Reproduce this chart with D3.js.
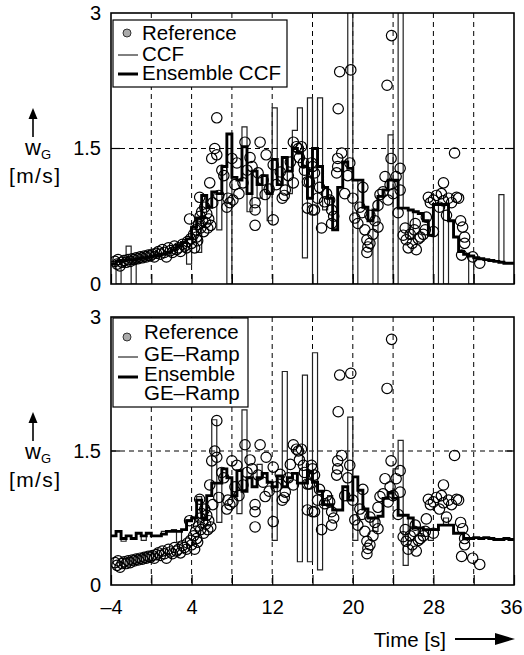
<!DOCTYPE html>
<html>
<head>
<meta charset="utf-8">
<script src="https://cdnjs.cloudflare.com/ajax/libs/d3/7.8.5/d3.min.js"></script>
<style>
body { margin: 0; background: #fff; }
svg text { font-family: "Liberation Sans", Arial, sans-serif; fill: #000; }
</style>
</head>
<body>
<svg class="WindChart" width="524" height="655"></svg>
<script>
// time axis (s)
var timeDomain = [-4, 36];
var xTickValues = [-4, 0, 4, 8, 12, 16, 20, 24, 28, 32, 36];
var xLabelValues = [-4, 4, 12, 20, 28, 36];
var gridTimes = [0, 4, 8, 12, 16, 20, 24, 28, 32];
var yTickValues = [0, 1.5, 3];
var gridLevels = [1.5];

// step series start at -4 s, one value every 0.5 s
var stepStart = -4;
var stepWidth = 0.5;

var ensembleCCF = [
    0.22, 0.25, 0.26, 0.27, 0.27, 0.28, 0.29, 0.30, 0.31, 0.32,
    0.33, 0.35, 0.38, 0.42, 0.46, 0.50, 0.63, 0.73, 0.98, 0.85,
    1.02, 1.00, 1.30, 1.66, 1.18, 1.15, 1.52, 1.00, 1.25, 1.10,
    1.20, 1.00, 1.38, 1.10, 1.40, 1.25, 1.50, 1.45, 1.30, 0.95,
    1.50, 1.30, 1.07, 0.95, 0.60, 1.07, 1.35, 1.28, 1.15, 1.15,
    0.85, 0.70, 0.82, 0.97, 1.04, 1.15, 1.15, 0.84, 0.84, 0.82,
    0.80, 0.78, 0.70, 0.54, 0.88, 0.88, 0.88, 0.70, 0.52, 0.36,
    0.33, 0.31, 0.29, 0.28, 0.27, 0.26, 0.25, 0.24, 0.23, 0.23
];

var singleCCF = [
    0.25, 0.00, 0.26, 0.42, 0.00, 0.28, 0.29, 0.30, 0.31, 0.33,
    0.33, 0.36, 0.38, 0.43, 0.47, 0.22, 0.63, 0.35, 0.98, 0.85,
    1.02, 0.60, 1.30, 0.00, 1.18, 1.15, 1.74, 0.80, 1.25, 0.95,
    1.20, 0.70, 1.95, 1.10, 1.40, 1.00, 1.70, 1.95, 0.29, 2.06,
    0.00, 2.06, 0.82, 0.95, 0.60, 1.07, 1.35, 3.20, 0.00, 1.15,
    0.85, 0.70, 0.00, 0.97, 1.04, 1.65, 0.00, 3.20, 0.84, 0.50,
    0.80, 0.78, 0.70, 0.54, 0.00, 0.88, 0.00, 0.70, 0.52, 0.36,
    0.33, 0.00, 0.29, 0.28, 0.27, 0.26, 0.25, 0.99, 0.23, 0.23
];

var ensembleRamp = [
    0.55, 0.60, 0.52, 0.55, 0.52, 0.58, 0.55, 0.58, 0.55, 0.55,
    0.57, 0.60, 0.60, 0.60, 0.62, 0.72, 0.75, 0.95, 0.75, 1.00,
    1.14, 1.14, 1.30, 1.20, 1.00, 1.28, 1.05, 1.20, 1.10, 1.20,
    1.25, 1.15, 1.10, 1.22, 1.10, 1.20, 1.25, 1.14, 1.14, 1.27,
    1.15, 1.05, 0.90, 0.90, 0.84, 0.84, 1.10, 0.95, 1.21, 1.06,
    0.85, 0.75, 0.75, 0.77, 0.97, 1.03, 0.97, 0.78, 0.78, 0.75,
    0.64, 0.64, 0.62, 0.62, 0.62, 0.67, 0.67, 0.67, 0.58, 0.58,
    0.52, 0.52, 0.53, 0.52, 0.53, 0.52, 0.51, 0.51, 0.52, 0.51
];

var singleRamp = [
    0.55, 0.60, 0.49, 0.55, 0.52, 0.58, 0.50, 0.58, 0.55, 0.55,
    0.60, 0.60, 0.62, 0.48, 0.62, 0.73, 0.75, 0.99, 0.73, 1.00,
    1.85, 0.70, 1.30, 1.20, 1.00, 0.80, 1.96, 1.20, 1.10, 1.35,
    1.25, 1.15, 0.50, 1.22, 2.39, 1.20, 1.25, 0.26, 2.35, 0.26,
    2.60, 0.17, 0.90, 1.00, 0.84, 0.84, 1.10, 1.88, 0.50, 1.06,
    0.85, 0.75, 0.60, 0.77, 0.97, 1.03, 1.30, 1.62, 0.22, 0.75,
    0.64, 0.55, 0.62, 0.50, 0.62, 0.67, 0.75, 0.67, 0.58, 0.58,
    0.52, 0.52, 0.53, 0.52, 0.53, 0.52, 0.51, 0.51, 0.52, 0.51
];

// reference measurement [time s, wG m/s]
var referencePoints = [
    [-3.6,0.25],[-3.4,0.22],[-3.3,0.27],[-3.1,0.20],[-2.9,0.24],[-2.7,0.26],[-2.5,0.24],[-2.3,0.27],
    [-2.1,0.25],[-1.9,0.28],[-1.7,0.27],[-1.5,0.29],[-1.3,0.28],[-1.1,0.30],[-0.9,0.29],[-0.7,0.31],
    [-0.5,0.30],[-0.3,0.32],[-0.1,0.31],[0.1,0.33],[0.3,0.30],[0.5,0.34],[0.7,0.36],[0.9,0.33],
    [1.1,0.38],[1.3,0.35],[1.5,0.30],[1.7,0.40],[1.9,0.37],[2.1,0.35],[2.3,0.42],[2.5,0.38],
    [2.7,0.40],[2.9,0.36],[3.1,0.44],[3.3,0.42],[3.5,0.40],[3.6,0.47],[3.8,0.72],[3.9,0.50],
    [4.0,0.45],[4.2,0.55],[4.3,0.40],[4.4,0.60],[4.5,0.52],[4.6,0.48],[4.7,0.66],[4.8,0.96],
    [4.85,0.75],[4.9,0.62],[5.0,0.80],[5.1,0.70],[5.2,0.58],[5.3,0.85],[5.4,0.68],[5.5,0.78],
    [5.6,0.62],[5.7,0.72],[5.8,1.12],[5.9,0.65],[6.0,1.39],[6.1,0.90],[6.3,1.50],[6.5,1.43],
    [6.5,1.84],[6.7,0.98],[7.0,1.26],[7.2,1.20],[7.5,0.85],[7.6,0.95],[7.8,0.90],[8.0,1.39],
    [8.1,0.93],[8.3,1.10],[8.5,1.34],[8.7,1.00],[9.1,1.12],[9.3,1.57],[9.5,1.26],[9.8,1.40],
    [10.0,1.30],[10.3,0.90],[10.3,0.82],[10.3,0.65],[10.6,1.23],[10.8,1.57],[11.1,1.15],[11.3,0.99],
    [11.4,1.43],[11.7,1.05],[12.1,0.71],[12.1,1.32],[12.4,1.10],[12.8,1.24],[13.0,0.95],[13.2,0.98],
    [13.3,1.04],[13.6,1.20],[13.8,1.35],[14.1,1.12],[14.1,1.57],[14.4,1.52],[14.6,1.50],[14.7,1.40],
    [14.9,1.52],[15.1,1.34],[15.2,1.26],[15.5,0.84],[15.5,1.13],[15.7,1.13],[15.9,1.34],[16.0,1.30],
    [16.0,0.82],[16.2,1.23],[16.2,0.82],[16.5,0.95],[16.7,1.07],[16.9,0.62],[17.2,0.91],[17.4,1.00],
    [17.7,0.93],[17.9,0.82],[17.9,0.67],[18.1,0.75],[18.4,1.23],[18.5,1.30],[18.5,1.39],[18.55,1.94],
    [18.7,2.35],[18.9,1.45],[19.2,1.00],[19.5,1.20],[19.7,1.34],[19.8,2.37],[20.0,0.95],[20.2,0.73],
    [20.5,0.67],[20.7,0.85],[20.9,0.79],[21.0,1.07],[21.2,0.60],[21.4,0.49],[21.4,0.35],[21.5,0.41],
    [21.7,0.45],[21.7,0.76],[22.0,0.55],[22.2,0.70],[22.5,0.63],[22.5,0.87],[22.7,0.99],[23.0,1.02],
    [23.2,1.19],[23.4,2.20],[23.5,0.93],[23.7,1.10],[23.8,1.39],[23.85,2.75],[24.0,1.00],[24.3,1.19],
    [24.5,0.79],[24.7,1.28],[24.7,1.04],[25.0,0.54],[25.2,0.62],[25.3,0.49],[25.5,0.40],[25.7,0.55],
    [25.9,0.45],[26.1,0.60],[26.2,0.67],[26.3,0.38],[26.5,0.50],[26.7,0.52],[27.0,0.55],[27.2,0.60],
    [27.3,0.74],[27.5,0.96],[27.7,0.90],[28.0,0.93],[28.0,0.58],[28.3,0.98],[28.6,0.85],[28.8,1.00],
    [29.0,1.12],[29.0,0.92],[29.3,0.76],[29.5,0.95],[29.8,0.90],[30.1,1.45],[30.3,0.96],[30.5,0.95],
    [30.7,0.70],[30.9,0.63],[31.1,0.52],[31.1,0.45],[30.8,0.32],[31.9,0.30],[32.6,0.23]
];

var topLegend = ["Reference", "CCF", "Ensemble CCF"];
var bottomLegend = ["Reference", "GE\u2013Ramp", "Ensemble", "GE\u2013Ramp"];

var meta = {};

function init()
{
    meta['svg'] = d3.select(".WindChart");
    meta['left'] = 111;
    meta['right'] = 514;
    meta['xScale'] = d3.scaleLinear()
        .domain(timeDomain)
        .range([meta['left'], meta['right']]);

    renderPanel({
        'id' : 'upper',
        'top' : 13,
        'bottom' : 284,
        'thin' : singleCCF,
        'thick' : ensembleCCF,
        'showLabels' : false
    });
    renderPanel({
        'id' : 'lower',
        'top' : 317,
        'bottom' : 585,
        'thin' : singleRamp,
        'thick' : ensembleRamp,
        'showLabels' : true
    });

    renderTopLegend();
    renderBottomLegend();
    renderTimeLabel();
}

function toSteps(values)
{
    let steps = values.map((v, i) => ({ 't' : stepStart + i * stepWidth, 'v' : v }));
    steps.push({ 't' : stepStart + values.length * stepWidth, 'v' : values[values.length - 1] });
    return steps;
}

function renderPanel(panel)
{
    const svg = meta['svg'];
    const xScale = meta['xScale'];
    const yScale = d3.scaleLinear()
        .domain([0, 3])
        .range([panel.bottom, panel.top]);

    svg.append('clipPath')
        .attr('id', panel.id + '-clip')
        .append('rect')
        .attr('x', meta['left'])
        .attr('y', panel.top)
        .attr('width', meta['right'] - meta['left'])
        .attr('height', panel.bottom - panel.top);

    var holder = svg.append('g').attr('class', 'holder');
    var plot = holder.append('g').attr('clip-path', `url(#${panel.id}-clip)`);

    // dashed grid
    plot.selectAll('.vgrid')
        .data(gridTimes)
        .enter()
        .append('line')
        .attr('x1', d => xScale(d))
        .attr('x2', d => xScale(d))
        .attr('y1', panel.top)
        .attr('y2', panel.bottom)
        .attr('stroke', '#000')
        .attr('stroke-width', 1)
        .attr('stroke-dasharray', '5,4');

    plot.selectAll('.hgrid')
        .data(gridLevels)
        .enter()
        .append('line')
        .attr('x1', meta['left'])
        .attr('x2', meta['right'])
        .attr('y1', d => yScale(d))
        .attr('y2', d => yScale(d))
        .attr('stroke', '#000')
        .attr('stroke-width', 1)
        .attr('stroke-dasharray', '5,4');

    // short solid ticks where the level grid meets the frame
    plot.selectAll('.ytick')
        .data(gridLevels.flatMap(d => [[meta['left'], d, 1], [meta['right'], d, -1]]))
        .enter()
        .append('line')
        .attr('x1', d => d[0])
        .attr('x2', d => d[0] + d[2] * 9)
        .attr('y1', d => yScale(d[1]))
        .attr('y2', d => yScale(d[1]))
        .attr('stroke', '#000')
        .attr('stroke-width', 1.2);

    var stepLine = d3.line()
        .x(d => xScale(d.t))
        .y(d => yScale(d.v))
        .curve(d3.curveStepAfter);

    plot.append('path')
        .attr('d', stepLine(toSteps(panel.thin)))
        .attr('fill', 'none')
        .attr('stroke', '#222')
        .attr('stroke-width', 1.2);

    plot.append('path')
        .attr('d', stepLine(toSteps(panel.thick)))
        .attr('fill', 'none')
        .attr('stroke', '#000')
        .attr('stroke-width', 2.9);

    plot.selectAll('.circle')
        .data(referencePoints)
        .enter()
        .append('circle')
        .attr('class', 'circle')
        .attr('cx', d => xScale(d[0]))
        .attr('cy', d => yScale(d[1]))
        .attr('r', 5.2)
        .attr('fill', 'none')
        .attr('stroke', '#000')
        .attr('stroke-width', 1.2);

    // inward ticks along the bottom
    var xAxis = holder.append('g')
        .attr('transform', `translate(0,${panel.bottom})`)
        .call(
            d3.axisBottom(xScale)
                .tickValues(xTickValues)
                .tickSize(-10)
                .tickPadding(15)
                .tickFormat(d => {
                    if (!panel.showLabels || xLabelValues.indexOf(d) < 0) return '';
                    return d < 0 ? '\u2013' + Math.abs(d) : String(d);
                })
        );
    xAxis.select('.domain').remove();
    xAxis.selectAll('.tick line').attr('stroke', '#000').attr('stroke-width', 1.2);
    xAxis.selectAll('.tick text')
        .attr('font-size', 20)
        .attr('font-family', '"Liberation Sans", Arial, sans-serif')
        .attr('fill', '#000')
        .attr('dx', d => d == timeDomain[1] ? -3 : 0);

    var yAxis = holder.append('g')
        .attr('transform', `translate(${meta['left']},0)`)
        .call(
            d3.axisLeft(yScale)
                .tickValues(yTickValues)
                .tickSize(0)
                .tickPadding(10)
                .tickFormat(d => String(d))
        );
    yAxis.select('.domain').remove();
    yAxis.selectAll('.tick text')
        .attr('font-size', 20)
        .attr('font-family', '"Liberation Sans", Arial, sans-serif')
        .attr('fill', '#000');

    // frame
    holder.append('rect')
        .attr('x', meta['left'])
        .attr('y', panel.top)
        .attr('width', meta['right'] - meta['left'])
        .attr('height', panel.bottom - panel.top)
        .attr('fill', 'none')
        .attr('stroke', '#000')
        .attr('stroke-width', 1.6);

    // y axis legend: arrow, w_G, [m/s]
    const labelTop = panel.top + 95;
    holder.append('line')
        .attr('x1', 33).attr('x2', 33)
        .attr('y1', labelTop + 8).attr('y2', labelTop + 29)
        .attr('stroke', '#000')
        .attr('stroke-width', 1.6);
    holder.append('path')
        .attr('d', `M33,${labelTop} L37.5,${labelTop + 11} L28.5,${labelTop + 11} Z`)
        .attr('fill', '#000');
    var wLabel = holder.append('text')
        .attr('x', 25)
        .attr('y', labelTop + 47)
        .attr('font-size', 22);
    wLabel.append('tspan').text('w');
    wLabel.append('tspan')
        .attr('font-size', 13)
        .attr('dy', 4)
        .text('G');
    holder.append('text')
        .attr('x', 9)
        .attr('y', labelTop + 75)
        .attr('font-size', 21)
        .attr('textLength', 51)
        .text('[m/s]');
}

function legendRow(g, kind, y, x0)
{
    if (kind == 'circle') {
        g.append('circle')
            .attr('cx', x0 + 14)
            .attr('cy', y)
            .attr('r', 4)
            .attr('fill', '#aaa')
            .attr('stroke', '#333')
            .attr('stroke-width', 1);
    } else {
        g.append('line')
            .attr('x1', x0 + 5)
            .attr('x2', x0 + 25)
            .attr('y1', y)
            .attr('y2', y)
            .attr('stroke', '#000')
            .attr('stroke-width', kind == 'thick' ? 3 : 1);
    }
}

function renderTopLegend()
{
    var g = meta['svg'].append('g').attr('class', 'legend');
    g.append('rect')
        .attr('x', 113).attr('y', 20)
        .attr('width', 174).attr('height', 67)
        .attr('fill', '#fff')
        .attr('stroke', '#000')
        .attr('stroke-width', 1.2);
    var rows = [
        { 'kind' : 'circle', 'mark' : 33, 'base' : 40 },
        { 'kind' : 'thin', 'mark' : 55, 'base' : 61 },
        { 'kind' : 'thick', 'mark' : 74, 'base' : 80 }
    ];
    rows.forEach((r, i) => {
        legendRow(g, r.kind, r.mark, 113);
        g.append('text')
            .attr('x', 142)
            .attr('y', r.base)
            .attr('font-size', 20.5)
            .text(topLegend[i]);
    });
}

function renderBottomLegend()
{
    var g = meta['svg'].append('g').attr('class', 'legend');
    g.append('rect')
        .attr('x', 113).attr('y', 318)
        .attr('width', 135).attr('height', 89)
        .attr('fill', '#fff')
        .attr('stroke', '#000')
        .attr('stroke-width', 1.2);
    var rows = [
        { 'kind' : 'circle', 'mark' : 337, 'base' : 339 },
        { 'kind' : 'thin', 'mark' : 357, 'base' : 361 },
        { 'kind' : 'thick', 'mark' : 377, 'base' : 381 },
        { 'kind' : 'none', 'mark' : 0, 'base' : 400 }
    ];
    rows.forEach((r, i) => {
        if (r.kind != 'none') legendRow(g, r.kind, r.mark, 113);
        g.append('text')
            .attr('x', 144)
            .attr('y', r.base)
            .attr('font-size', 20.5)
            .text(bottomLegend[i]);
    });
}

function renderTimeLabel()
{
    var svg = meta['svg'];
    svg.append('text')
        .attr('x', 446)
        .attr('y', 647)
        .attr('text-anchor', 'end')
        .attr('font-size', 20.5)
        .text('Time [s]');
    svg.append('line')
        .attr('x1', 455).attr('x2', 500)
        .attr('y1', 639).attr('y2', 639)
        .attr('stroke', '#000')
        .attr('stroke-width', 1.8);
    svg.append('path')
        .attr('d', 'M515,639 L495,633 L495,645 Z')
        .attr('fill', '#000');
}

init();
</script>
</body>
</html>
